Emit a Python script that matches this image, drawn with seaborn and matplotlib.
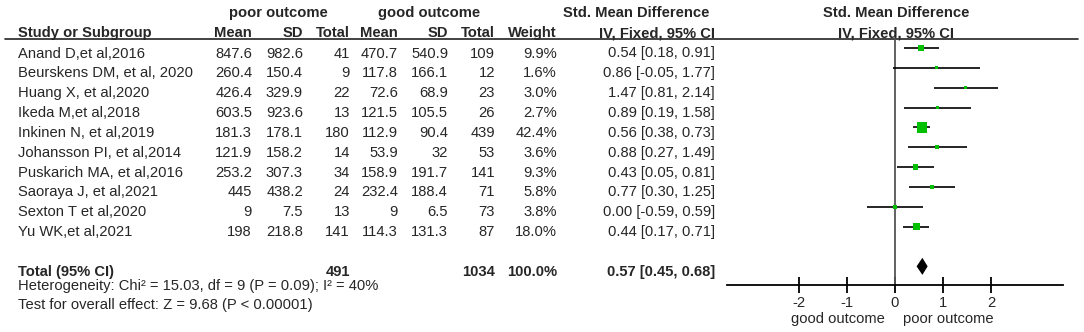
import numpy as np
import pandas as pd
import seaborn as sns
import matplotlib.pyplot as plt

# study data
studies = ['Anand D,et al,2016', 'Beurskens DM, et al, 2020', 'Huang X, et al,2020',
           'Ikeda M,et al,2018', 'Inkinen N, et al,2019', 'Johansson PI, et al,2014',
           'Puskarich MA, et al,2016', 'Saoraya J, et al,2021', 'Sexton T et al,2020',
           'Yu WK,et al,2021']
poor_mean = [847.6, 260.4, 426.4, 603.5, 181.3, 121.9, 253.2, 445, 9, 198]
poor_sd = [982.6, 150.4, 329.9, 923.6, 178.1, 158.2, 307.3, 438.2, 7.5, 218.8]
poor_n = [41, 9, 22, 13, 180, 14, 34, 24, 13, 141]
good_mean = [470.7, 117.8, 72.6, 121.5, 112.9, 53.9, 158.9, 232.4, 9, 114.3]
good_sd = [540.9, 166.1, 68.9, 105.5, 90.4, 32, 191.7, 188.4, 6.5, 131.3]
good_n = [109, 12, 23, 26, 439, 53, 141, 71, 73, 87]
weight = [9.9, 1.6, 3.0, 2.7, 42.4, 3.6, 9.3, 5.8, 3.8, 18.0]
smd = [0.54, 0.86, 1.47, 0.89, 0.56, 0.88, 0.43, 0.77, 0.00, 0.44]
ci_lo = [0.18, -0.05, 0.81, 0.19, 0.38, 0.27, 0.05, 0.30, -0.59, 0.17]
ci_hi = [0.91, 1.77, 2.14, 1.58, 0.73, 1.49, 0.81, 1.25, 0.59, 0.71]
total_poor = 491
total_good = 1034
total_weight = 100.0
total_smd, total_lo, total_hi = 0.57, 0.45, 0.68
heterogeneity = 'Heterogeneity: Chi² = 15.03, df = 9 (P = 0.09); I² = 40%'
overall = 'Test for overall effect: Z = 9.68 (P < 0.00001)'
ticks = [-2, -1, 0, 1, 2]

df = pd.DataFrame({'study': studies, 'smd': smd, 'lo': ci_lo, 'hi': ci_hi,
                   'weight': weight, 'row': np.arange(len(studies))})

sns.set_theme(style='white')
plt.rcParams['font.family'] = ['Liberation Sans', 'DejaVu Sans']

W, H = 1084, 332
fig = plt.figure(figsize=(W / 100, H / 100), dpi=100)

# table layer in pixel coordinates
ax_t = fig.add_axes([0, 0, 1, 1])
ax_t.set_xlim(0, W)
ax_t.set_ylim(H, 0)
ax_t.axis('off')

fs = 10.6
row_y0, row_dy = 48, 19.85
text_off = 5.5
cols = [252, 303, 350, 398, 448, 495, 557, 715]
hy1, hy2 = 13, 33

ax_t.text(278, hy1, 'poor outcome', ha='center', va='center', fontsize=fs, fontweight='bold')
ax_t.text(429, hy1, 'good outcome', ha='center', va='center', fontsize=fs, fontweight='bold')
ax_t.text(636, hy1, 'Std. Mean Difference', ha='center', va='center', fontsize=fs, fontweight='bold')
ax_t.text(896, hy1, 'Std. Mean Difference', ha='center', va='center', fontsize=fs, fontweight='bold')
ax_t.text(18, hy2, 'Study or Subgroup', ha='left', va='center', fontsize=fs, fontweight='bold')
for x, h in zip(cols, ['Mean', 'SD', 'Total', 'Mean', 'SD', 'Total', 'Weight', 'IV, Fixed, 95% CI']):
    ax_t.text(x, hy2, h, ha='right', va='center', fontsize=fs, fontweight='bold')
ax_t.text(896, hy2, 'IV, Fixed, 95% CI', ha='center', va='center', fontsize=fs, fontweight='bold')
ax_t.plot([5, 1078], [39, 39], color='#222222', lw=1.2)

for i, s in enumerate(studies):
    y = row_y0 + row_dy * i + text_off
    vals = [f'{poor_mean[i]:g}', f'{poor_sd[i]:g}', f'{poor_n[i]}',
            f'{good_mean[i]:g}', f'{good_sd[i]:g}', f'{good_n[i]}',
            f'{weight[i]:.1f}%', f'{smd[i]:.2f} [{ci_lo[i]:.2f}, {ci_hi[i]:.2f}]']
    ax_t.text(18, y, s, ha='left', va='center', fontsize=fs)
    for x, v in zip(cols, vals):
        ax_t.text(x, y, v, ha='right', va='center', fontsize=fs)

yt = row_y0 + row_dy * 11 + text_off
ax_t.text(18, yt, 'Total (95% CI)', ha='left', va='center', fontsize=fs, fontweight='bold')
ax_t.text(cols[2], yt, f'{total_poor}', ha='right', va='center', fontsize=fs, fontweight='bold')
ax_t.text(cols[5], yt, f'{total_good}', ha='right', va='center', fontsize=fs, fontweight='bold')
ax_t.text(cols[6], yt, f'{total_weight:.1f}%', ha='right', va='center', fontsize=fs, fontweight='bold')
ax_t.text(cols[7], yt, f'{total_smd:.2f} [{total_lo:.2f}, {total_hi:.2f}]', ha='right', va='center',
          fontsize=fs, fontweight='bold')
ax_t.text(18, 286, heterogeneity, ha='left', va='center', fontsize=fs)
ax_t.text(18, 305, overall, ha='left', va='center', fontsize=fs)
ax_t.text(885, 319, 'good outcome', ha='right', va='center', fontsize=fs)
ax_t.text(903, 319, 'poor outcome', ha='left', va='center', fontsize=fs)

# forest panel
left, right, top, bottom = 727, 1063, 39, 285
ax = fig.add_axes([left / W, (H - bottom) / H, (right - left) / W, (bottom - top) / H])
ax.patch.set_alpha(0)
ax.set_xlim(-3.5, 3.5)
ax.set_ylim((bottom - row_y0) / row_dy, (top - row_y0) / row_dy)
ax.axvline(0, color='#555555', lw=1.3)
ax.hlines(df['row'], df['lo'], df['hi'], color='black', lw=1.2, zorder=2)
sns.scatterplot(data=df, x='smd', y='row', size='weight', sizes=(5, 55),
                size_norm=(min(weight), max(weight)), marker='s', color='#00C000',
                edgecolor='none', linewidth=0, legend=False, ax=ax, zorder=3)
dy = 0.43
ax.fill([total_lo, total_smd, total_hi, total_smd], [11, 11 - dy, 11, 11 + dy], color='black', lw=0)

for sp in ['top', 'left', 'right']:
    ax.spines[sp].set_visible(False)
ax.spines['bottom'].set_color('black')
ax.spines['bottom'].set_linewidth(1.3)
ax.set_xticks(ticks)
ax.set_xticklabels([str(t) for t in ticks])
ax.tick_params(axis='x', direction='inout', length=12, width=1.3, color='black',
               labelsize=fs, pad=2, bottom=True)
ax.set_yticks([])
ax.set_xlabel('')
ax.set_ylabel('')

fig.savefig('out.png', dpi=100)
